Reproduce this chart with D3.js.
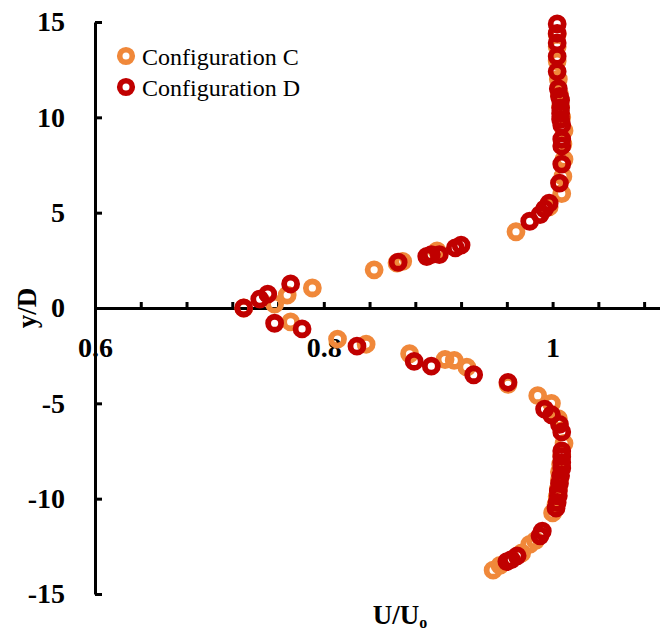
<!DOCTYPE html>
<html>
<head>
<meta charset="utf-8">
<script src="https://cdn.jsdelivr.net/npm/d3@7"></script>
<style>
  body { margin: 0; background: #fff; }
  svg text { font-family: "Liberation Serif", "Times New Roman", serif; }
</style>
</head>
<body>
<div id="chart"></div>
<script>
// Configuration C (orange)
var cU = [0.730, 0.757, 0.768, 0.790, 0.844, 0.864, 0.869, 0.899, 0.968, 0.997, 1.008, 1.009, 1.010, 1.009, 1.010, 1.008, 1.007, 1.006, 1.005, 1.004, 1.004, 1.004,
          0.771, 0.812, 0.837, 0.875, 0.906, 0.914, 0.925, 0.961, 0.987, 0.999, 1.005, 1.010, 1.008, 1.007, 1.006, 1.006, 1.005, 1.004, 1.003, 1.000, 0.985, 0.980, 0.973, 0.954, 0.948];
var cY = [0.0, 0.2, 0.68, 1.05, 2.0, 2.36, 2.45, 3.0, 4.0, 5.3, 6.0, 6.9, 7.8, 8.6, 9.3, 10.0, 10.6, 11.2, 12.0, 12.95, 13.7, 14.35,
          -0.73, -1.63, -1.9, -2.4, -2.7, -2.75, -3.1, -4.0, -4.6, -5.0, -5.8, -7.1, -7.7, -8.2, -8.6, -9.0, -9.5, -9.9, -10.3, -10.75, -12.2, -12.4, -12.85, -13.5, -13.75];

// Configuration D (dark red)
var dU = [0.730, 0.744, 0.751, 0.771, 0.865, 0.890, 0.894, 0.901, 0.915, 0.920, 0.980, 0.989, 0.993, 0.997, 1.006, 1.008, 1.008, 1.008, 1.008, 1.007, 1.007, 1.007, 1.007, 1.006, 1.005, 1.004, 1.004, 1.004, 1.004, 1.004,
          0.757, 0.781, 0.829, 0.879, 0.894, 0.931, 0.961, 0.993, 0.999, 1.006, 1.008, 1.008, 1.008, 1.008, 1.008, 1.007, 1.006, 1.005, 1.005, 1.004, 1.003, 0.991, 0.989, 0.969, 0.964, 0.960];
var dY = [0.0, 0.47, 0.73, 1.26, 2.4, 2.7, 2.8, 2.8, 3.15, 3.3, 4.55, 4.9, 5.2, 5.5, 6.55, 7.55, 8.5, 8.85, 9.6, 9.9, 10.2, 10.5, 10.9, 11.1, 11.5, 12.4, 13.2, 13.9, 14.4, 14.9,
          -0.8, -1.1, -2.0, -2.8, -3.05, -3.5, -3.9, -5.3, -5.6, -6.1, -6.5, -7.5, -7.8, -8.1, -8.4, -8.8, -9.2, -9.6, -9.85, -10.2, -10.5, -11.7, -11.95, -13.0, -13.2, -13.3];

var seriesNames = ["Configuration C", "Configuration D"];
var seriesColors = ["#F0883A", "#C00000"];
var xTicks = d3.range(0.6, 1.1, 0.04);
var xLabeled = [0.6, 0.8, 1];
var yTicks = [-15, -10, -5, 0, 5, 10, 15];

var svg = d3.select("#chart").append("svg").attr("width", 660).attr("height", 635);

var x = d3.scaleLinear().domain([0.6, 1.1]).range([95, 667]);
var y = d3.scaleLinear().domain([-15, 15]).range([594, 22]);

// x axis (crossing at y = 0)
var xAxis = d3.axisBottom(x)
    .tickValues(xTicks)
    .tickSizeInner(-6).tickSizeOuter(0).tickPadding(29)
    .tickFormat(function(d) {
        return xLabeled.some(function(v) { return Math.abs(v - d) < 1e-6; }) ? String(+d.toFixed(2)) : "";
    });
var gx = svg.append("g").attr("transform", "translate(0," + y(0) + ")").call(xAxis);

var yAxis = d3.axisLeft(y)
    .tickValues(yTicks)
    .tickSizeInner(-7).tickSizeOuter(0).tickPadding(30)
    .tickFormat(function(d) { return String(d); });
var gy = svg.append("g").attr("transform", "translate(" + x(0.6) + ",0)").call(yAxis);

[gx, gy].forEach(function(g) {
    g.attr("font-family", null).attr("font-size", null);
    g.selectAll("text")
        .style("font-family", "'Liberation Serif', 'Times New Roman', serif")
        .style("font-size", "28px").style("font-weight", "bold").style("fill", "#000");
    g.select(".domain").attr("stroke", "#000").attr("stroke-width", 3);
    g.selectAll(".tick line").attr("stroke", "#000").attr("stroke-width", 3);
});
// axis line drawn over the 0.6 label
gy.select(".domain").raise();

// axis titles
svg.append("text")
    .attr("transform", "translate(36," + y(0) + ") rotate(-90)")
    .attr("text-anchor", "middle")
    .style("font-size", "27px").style("font-weight", "bold")
    .text("y/D");

var xt = svg.append("text")
    .attr("x", 400).attr("y", 624)
    .attr("text-anchor", "middle")
    .style("font-size", "27px").style("font-weight", "bold");
xt.append("tspan").text("U/U");
xt.append("tspan").attr("dy", 4).style("font-size", "16px").text("o");

// points
var sets = [
    { name: seriesNames[0], color: seriesColors[0], u: cU, v: cY },
    { name: seriesNames[1], color: seriesColors[1], u: dU, v: dY }
];

sets.forEach(function(s) {
    var pts = s.u.map(function(u, i) { return { u: u, v: s.v[i] }; });
    svg.append("g")
        .selectAll("circle")
        .data(pts)
        .enter().append("circle")
        .attr("cx", function(d) { return x(d.u); })
        .attr("cy", function(d) { return y(d.v); })
        .attr("r", 6.5)
        .style("fill", "none")
        .style("stroke", s.color)
        .style("stroke-width", 5.8);
});

// legend
var legend = svg.append("g").selectAll("g")
    .data(sets)
    .enter().append("g")
    .attr("transform", function(d, i) { return "translate(126," + (56 + i * 31) + ")"; });
legend.append("circle")
    .attr("r", 6.3)
    .style("fill", "none")
    .style("stroke", function(d) { return d.color; })
    .style("stroke-width", 5.6);
legend.append("text")
    .attr("x", 16).attr("y", 9)
    .style("font-size", "24px")
    .text(function(d) { return d.name; });
</script>
</body>
</html>
